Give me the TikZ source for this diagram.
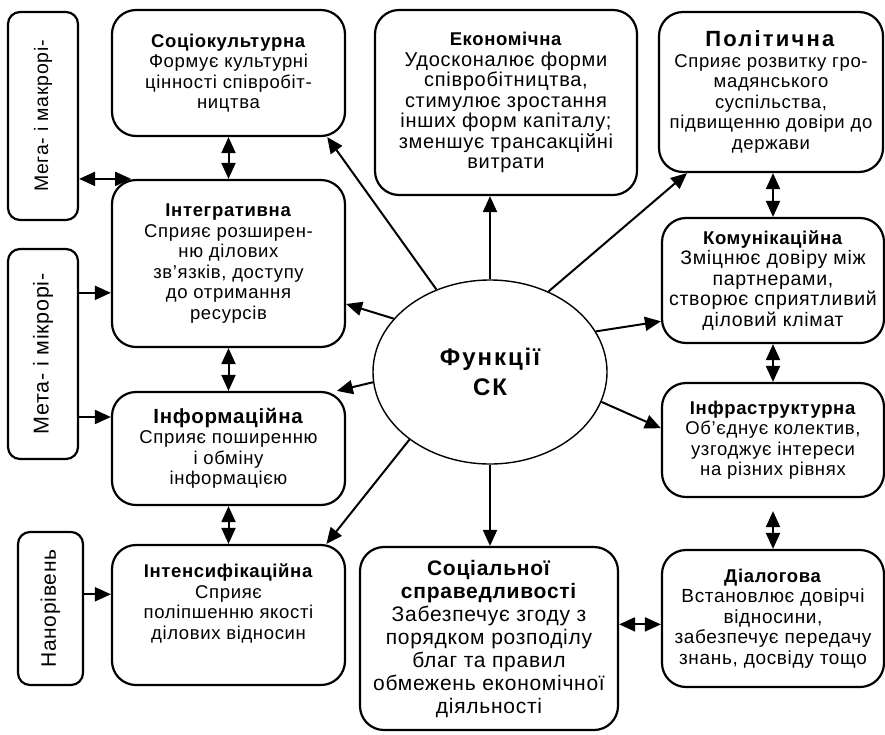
\documentclass[tikz,border=0pt]{standalone}
\usepackage{fontspec}
\setmainfont{Liberation Sans}[LetterSpace=3.5]
\usetikzlibrary{shapes.geometric,arrows.meta}

\begin{document}
\begin{tikzpicture}[x=1pt,y=-1pt,
    fnbox/.style={draw, line width=2.2pt, rounded corners=24pt, align=center, inner sep=2pt, font=\fontsize{18.5}{20.5}\selectfont},
    lvlbox/.style={draw, line width=2.2pt, rounded corners=12pt, inner sep=0pt, font=\fontsize{19.5}{22}\selectfont},
    toarr/.style={line width=2pt, -{Triangle[length=16pt,width=14pt]}},
    botharr/.style={line width=2pt, {Triangle[length=16pt,width=14pt]}-{Triangle[length=16pt,width=14pt]}}]
    \useasboundingbox (0,0) rectangle (885,734);

    % Centre
    \node[draw, ellipse, line width=1.4pt, minimum width=234pt, minimum height=184pt, align=center, font=\fontsize{24}{30}\selectfont\bfseries\addfontfeatures{LetterSpace=8}] (fsk) at (490,372) {Функції\\СК};

    % Left column
    \node[fnbox, minimum width=233pt, minimum height=126pt] (soc) at (228.5,73) {\textbf{Соціокультурна}\\Формує культурні\\цінності співробіт-\\ництва};
    \node[fnbox, minimum width=233pt, minimum height=167pt] (integr) at (228.5,263.5) {\textbf{Інтегративна}\\Сприяє розширен-\\ню ділових\\зв’язків, доступу\\до отримання\\ресурсів};
    \node[fnbox, minimum width=233pt, minimum height=113pt] (inform) at (228.5,448.5) {{\fontsize{20.5}{21}\selectfont\textbf{Інформаційна}}\\Сприяє поширенню\\і обміну\\інформацією};
    \node[fnbox, minimum width=233pt, minimum height=140pt] (intens) at (228.5,615) {\textbf{Інтенсифікаційна}\\Сприяє\\поліпшенню якості\\ділових відносин\\ \strut};

    % Levels
    \node[lvlbox, minimum width=70pt, minimum height=208pt] (mega) at (43,116) {\rotatebox{90}{Мега- і макрорі-}};
    \node[lvlbox, minimum width=70pt, minimum height=210pt, font=\fontsize{21.5}{22}\selectfont] (meta) at (43,354) {\rotatebox{90}{Мета- і мікрорі-}};
    \node[lvlbox, minimum width=65pt, minimum height=153pt, font=\fontsize{21}{22}\selectfont] (nano) at (50.5,608.5) {\rotatebox{90}{Нанорівень}};

    % Middle column
    \node[fnbox, minimum width=262pt, minimum height=185pt, font=\fontsize{20}{20.5}\selectfont] (econ) at (506,102.5) {{\fontsize{18.5}{20.5}\selectfont\textbf{Економічна}}\\Удосконалює форми\\співробітництва,\\стимулює зростання\\інших форм капіталу;\\зменшує трансакційні\\витрати};
    \node[fnbox, minimum width=258pt, minimum height=183pt, font=\fontsize{21}{23}\selectfont] (sprav) at (489,638.5) {\textbf{Соціальної}\\\textbf{справедливості}\\Забезпечує згоду з\\порядком розподілу\\благ та правил\\обмежень економічної\\діяльності};

    % Right column
    \node[fnbox, minimum width=224pt, minimum height=160pt] (polit) at (771,92) {{\fontsize{22}{22}\selectfont\addfontfeatures{LetterSpace=10}\textbf{Політична}}\\Сприяє розвитку гро-\\мадянського\\суспільства,\\підвищенню довіри до\\держави};
    \node[fnbox, minimum width=222pt, minimum height=125pt, font=\fontsize{19.5}{20.5}\selectfont] (komun) at (773,280.5) {{\fontsize{18.5}{20.5}\selectfont\textbf{Комунікаційна}}\\Зміцнює довіру між\\партнерами,\\створює сприятливий\\діловий клімат};
    \node[fnbox, minimum width=222pt, minimum height=114pt] (infra) at (773,440) {\textbf{Інфраструктурна}\\Об’єднує колектив,\\узгоджує інтереси\\на різних рівнях};
    \node[fnbox, minimum width=222pt, minimum height=137pt, font=\fontsize{19}{20.5}\selectfont] (dial) at (773,618.5) {{\fontsize{18.5}{20.5}\selectfont\textbf{Діалогова}}\\Встановлює довірчі\\відносини,\\забезпечує передачу\\знань, досвіду тощо};

    % From the centre
    \draw[toarr] (fsk.123) -- (soc.-33);
    \draw[toarr] (fsk.north) -- (fsk.north |- econ.south);
    \draw[toarr] (fsk.54) -- (polit.224);
    \draw[toarr] (fsk.21) -- (komun.200);
    \draw[toarr] (fsk.-15) -- (infra.174);
    \draw[toarr] (fsk.south) -- (fsk.south |- sprav.north);
    \draw[toarr] (fsk.220) -- (intens.36);
    \draw[toarr] (fsk.185) -- (inform.28);
    \draw[toarr] (fsk.151) -- (integr.-19);

    % Between functions
    \draw[botharr] (soc.south) -- (integr.north);
    \draw[botharr] (integr.south) -- (inform.north);
    \draw[botharr] (inform.south) -- (intens.north);
    \draw[botharr] (komun.north |- polit.south) -- (komun.north);
    \draw[botharr] (komun.south) -- (infra.north);
    \draw[botharr, shorten <=13pt] (infra.south) -- (dial.north);
    \draw[botharr] (dial.183 -| sprav.east) -- (dial.183);

    % Levels to functions
    \draw[botharr] (integr.139 -| mega.east) -- (integr.139);
    \draw[toarr] (integr.194 -| meta.east) -- (integr.194);
    \draw[toarr] (inform.165 -| meta.east) -- (inform.165);
    \draw[toarr] (intens.170 -| nano.east) -- (intens.170);
\end{tikzpicture}
\end{document}
